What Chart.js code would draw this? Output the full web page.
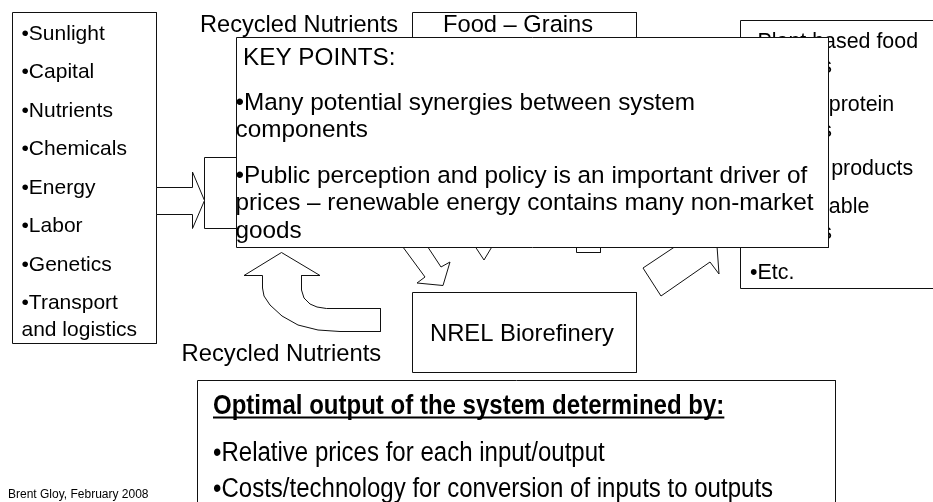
<!DOCTYPE html>
<html>
<head>
<meta charset="utf-8">
<script src="https://cdn.jsdelivr.net/npm/chart.js@4.4.0/dist/chart.umd.min.js"></script>
<style>
  html, body { margin: 0; padding: 0; background: #fff; }
  canvas { display: block; }
</style>
</head>
<body>
<canvas id="slide" width="933" height="502"></canvas>
<script>
// text content of the slide
const inputs = ['•Sunlight', '•Capital', '•Nutrients', '•Chemicals', '•Energy', '•Labor', '•Genetics', '•Transport', 'and logistics'];
const outputs = ['•Plant based food', 'products', '•Animal protein', 'products', '•Energy products', '•Sustainable', 'products', '•Etc.'];
const keyPoints = ['KEY POINTS:', '•Many potential synergies between system', 'components',
  '•Public perception and policy is an important driver of', 'prices – renewable energy contains many non-market', 'goods'];
const determinants = ['Optimal output of the system determined by:', '•Relative prices for each input/output',
  '•Costs/technology for conversion of inputs to outputs'];
const flowLabels = ['Recycled Nutrients', 'Food – Grains', 'NREL Biorefinery', 'Recycled Nutrients'];
const footer = 'Brent Gloy, February 2008';

// layout (slide pixels, y down)
const inputLines = [39.5, 78, 116.5, 155, 193.5, 232, 270.5, 309, 335.5];
const outputLines = [47.5, 73, 111, 136.5, 175, 213, 238.5, 279];
const keyLines = [65, 110, 137, 183, 210, 238];
const detLines = [414, 461, 497];

// outlines, bottom layer first; first point repeated to close the shape
const shapes = [
  { id: 'food',   pts: [[412.5,12.5],[636.5,12.5],[636.5,90],[412.5,90],[412.5,12.5]] },
  { id: 'out',    pts: [[740.5,20.5],[960,20.5],[960,288.5],[740.5,288.5],[740.5,20.5]] },
  { id: 'hub',    pts: [[204.5,157.5],[400,157.5],[400,228.5],[204.5,228.5],[204.5,157.5]] },
  { id: 'small',  pts: [[576.5,200],[600.5,200],[600.5,252.5],[576.5,252.5],[576.5,200]] },
  { id: 'down',   pts: [[461,225],[484,260],[505,225],[461,225]] },
  { id: 'toRef',  pts: [[383,220],[425,277],[417,283],[443,285.5],[450,262],[441,267],[410,220],[383,220]] },
  { id: 'toOut',  pts: [[643,268],[661,296],[710,262],[719,274],[716,232],[697,232],[643,268]] },
  { id: 'in',     pts: [[12.5,12.5],[156.5,12.5],[156.5,343.5],[12.5,343.5],[12.5,12.5]] },
  { id: 'inArrow',pts: [[156.5,187.5],[192.5,187.5],[192.5,172],[204.5,200.5],[192.5,228.5],[192.5,214.5],[156.5,214.5],[156.5,187.5]] },
  { id: 'recycle',pts: [[281.5,252.5],[320,275.5],[301.5,275.5],[301.5,290],[304,298],[310,304],[317,307],[326.5,308.5],[380.5,308.5],
                        [380.5,331.5],[340,331.5],[318,330],[298,325],[282,316],[270,305],[264,296],[262.5,288],[262.5,275.5],[244,275.5],[281.5,252.5]] },
  { id: 'nrel',   pts: [[412.5,292.5],[636.5,292.5],[636.5,372.5],[412.5,372.5],[412.5,292.5]] },
  { id: 'key',    pts: [[236.5,37.5],[828.5,37.5],[828.5,247.5],[236.5,247.5],[236.5,37.5]] },
  { id: 'det',    pts: [[197.5,380.5],[835.5,380.5],[835.5,520],[197.5,520],[197.5,380.5]] }
];

const FONT = '"Liberation Sans", Arial, sans-serif';

function put(chart, str, x, y, size, opt) {
  opt = opt || {};
  const ctx = chart.ctx;
  const px = chart.scales.x.getPixelForValue(x);
  const py = chart.scales.y.getPixelForValue(y);
  ctx.save();
  ctx.font = (opt.bold ? 'bold ' : '') + size + 'px ' + FONT;
  ctx.fillStyle = '#000';
  ctx.textAlign = 'left';
  ctx.textBaseline = 'alphabetic';
  ctx.translate(px, py);
  ctx.scale(opt.sx || 1, 1);
  ctx.fillText(str, 0, 0);
  if (opt.underline) {
    const w = ctx.measureText(str).width;
    ctx.fillRect(0, 2.5, w, 2);
  }
  ctx.restore();
}

const labelsPlugin = {
  id: 'slideText',
  afterDatasetDraw(chart, args) {
    const id = chart.data.datasets[args.index].label;
    if (id === 'food') put(chart, flowLabels[1], 443, 31.5, 23.7);
    if (id === 'out') outputs.forEach((t, i) => put(chart, t, 750, outputLines[i], 21.4));
    if (id === 'in') inputs.forEach((t, i) => put(chart, t, 21.5, inputLines[i], 21));
    if (id === 'recycle') {
      put(chart, flowLabels[0], 200, 31.5, 23.6);
      put(chart, flowLabels[3], 181.5, 360.5, 23.8);
    }
    if (id === 'nrel') put(chart, flowLabels[2], 430, 341, 23.8);
    if (id === 'key') keyPoints.forEach((t, i) => put(chart, t, i === 0 ? 243 : 235.5, keyLines[i], 24.3));
    if (id === 'det') determinants.forEach((t, i) =>
      put(chart, t, 213, detLines[i], 27, { sx: 0.89, bold: i === 0, underline: i === 0 }));
  },
  afterDatasetsDraw(chart) {
    put(chart, footer, 8, 498, 12);
  }
};

const n = shapes.length;
const slide = new Chart(document.getElementById('slide'), {
  type: 'scatter',
  data: {
    datasets: shapes.map((s, i) => ({
      label: s.id,
      data: s.pts.map(p => ({ x: p[0], y: p[1] })),
      showLine: true,
      fill: 'shape',
      backgroundColor: '#ffffff',
      borderColor: '#111111',
      borderWidth: 1,
      borderJoinStyle: 'miter',
      pointRadius: 0,
      tension: 0,
      clip: false,
      order: n - i
    }))
  },
  options: {
    responsive: false,
    animation: false,
    events: [],
    layout: { padding: 0 },
    scales: {
      x: { type: 'linear', min: 0, max: 933, display: false },
      y: { type: 'linear', min: 0, max: 502, reverse: true, display: false }
    },
    plugins: {
      legend: { display: false },
      tooltip: { enabled: false }
    }
  },
  plugins: [labelsPlugin]
});
</script>
</body>
</html>
